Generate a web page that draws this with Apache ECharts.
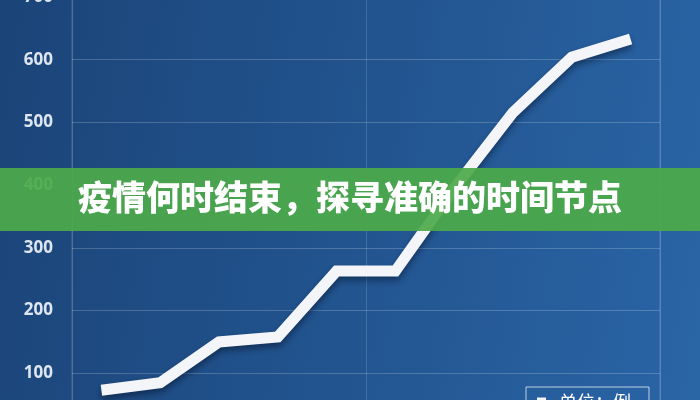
<!DOCTYPE html>
<html>
<head>
<meta charset="utf-8">
<script src="https://cdn.jsdelivr.net/npm/echarts@6/dist/echarts.min.js"></script>
<style>
  html, body { margin: 0; padding: 0; }
  #main {
    width: 700px;
    height: 400px;
    background: linear-gradient(100deg, #1b4478 0%, #21528c 45%, #2a65a6 100%);
  }
</style>
</head>
<body>
<div id="main"></div>
<script>
// data
const periods = ['1', '2', '3', '4', '5', '6', '7', '8', '9', '10'];
const cases = [73, 85, 150, 158, 263, 263, 395, 516, 604, 633];
const yTicks = [0, 100, 200, 300, 400, 500, 600, 700];
const title = '疫情何时结束，探寻准确的时间节点';
const unitName = '单位：例';

let myChart = echarts.init(document.getElementById('main'));

const option = {
  animation: false,
  grid: {
    left: 72,
    right: 40,
    top: -3,
    bottom: -36,
    outerBoundsMode: 'none',
    show: true,
    borderWidth: 1,
    borderColor: 'rgba(255,255,255,0.18)',
  },
  legend: {
    data: [unitName],
    left: 526,
    top: 387,
    icon: 'rect',
    itemWidth: 9,
    itemHeight: 9,
    itemGap: 10,
    padding: [6, 18, 6, 11],
    borderColor: 'rgba(255,255,255,0.7)',
    borderWidth: 1,
    textStyle: { color: '#ffffff', fontSize: 18, fontFamily: 'Noto Sans CJK SC', padding: [0, 0, 0, 8] },
  },
  xAxis: {
    type: 'category',
    data: periods,
    axisLine: { show: false },
    axisTick: { show: false },
    axisLabel: { show: false },
    splitLine: {
      show: true,
      interval: (index) => index % 5 === 0,
      lineStyle: { color: 'rgba(255,255,255,0.15)' },
    },
  },
  yAxis: {
    type: 'value',
    min: yTicks[0],
    max: yTicks[yTicks.length - 1],
    interval: 100,
    axisLine: { show: false },
    axisTick: { show: false },
    axisLabel: {
      margin: 19,
      color: '#dde5ef',
      fontSize: 17,
      fontWeight: 'bold',
      fontFamily: 'Open Sans',
    },
    splitLine: { lineStyle: { color: 'rgba(255,255,255,0.2)', width: 1 } },
  },
  series: [
    {
      name: unitName,
      type: 'line',
      data: cases,
      showSymbol: false,
      itemStyle: { color: '#f3f5f9' },
      lineStyle: {
        color: '#f3f5f9',
        width: 11,
        join: 'miter',
        shadowColor: 'rgba(0,10,30,0.45)',
        shadowBlur: 6,
        shadowOffsetY: 4,
      },
    },
  ],
  graphic: [
    {
      type: 'rect',
      left: 0,
      top: 168,
      shape: { width: 700, height: 63 },
      style: { fill: 'rgba(76,170,74,0.93)' },
      z: 100,
    },
    {
      type: 'text',
      left: 78,
      top: 180,
      style: {
        text: title,
        fill: '#ffffff',
        font: '900 34px "Noto Sans CJK SC"',
      },
      z: 101,
    },
  ],
};

myChart.setOption(option);
</script>
</body>
</html>
